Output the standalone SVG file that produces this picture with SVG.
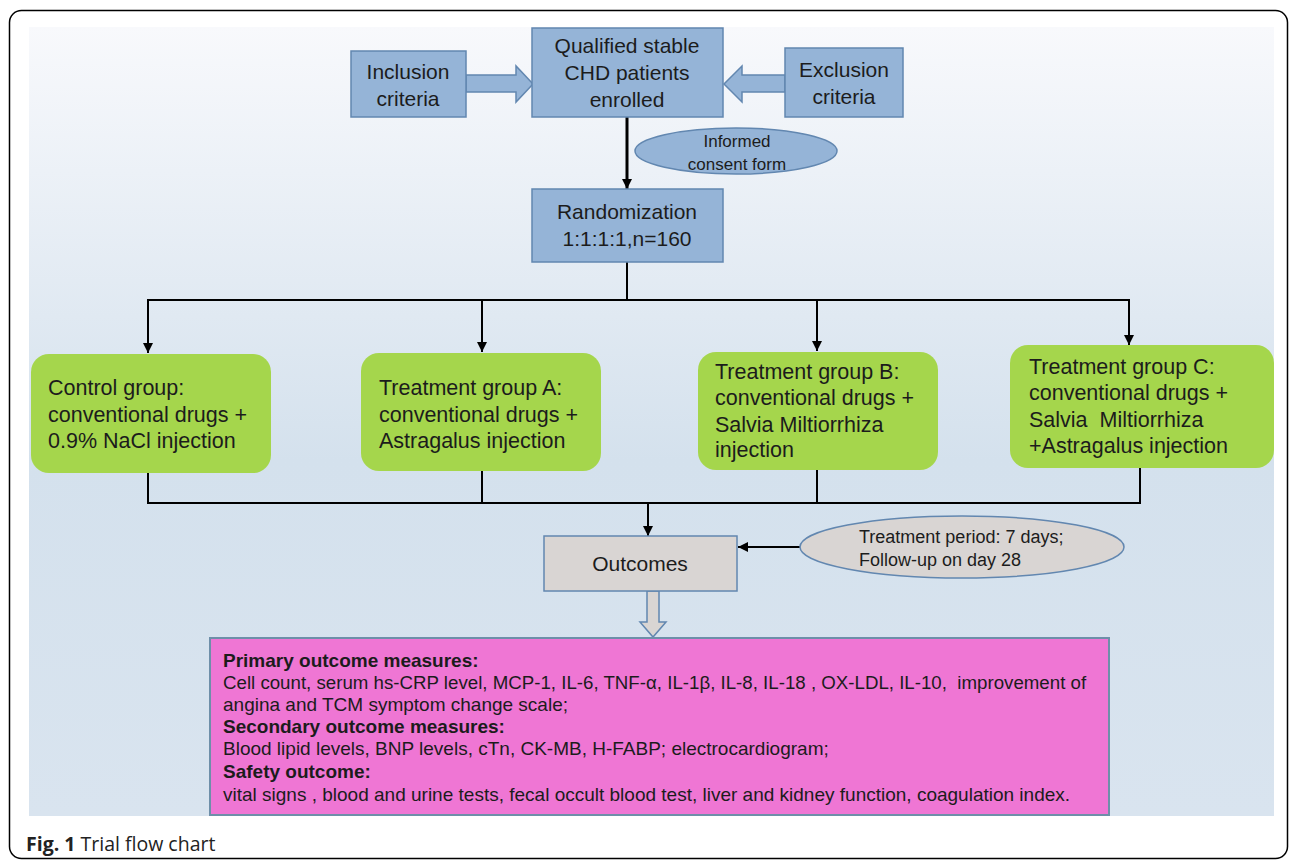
<svg xmlns="http://www.w3.org/2000/svg" width="1290" height="860" viewBox="0 0 1290 860">
<defs>
<linearGradient id="bg" x1="0" y1="0" x2="0" y2="1">
<stop offset="0" stop-color="#f8f9fc"/>
<stop offset="0.55" stop-color="#d4e1ed"/>
<stop offset="1" stop-color="#d9e4ef"/>
</linearGradient>
<marker id="ah" viewBox="0 0 10 10" refX="10" refY="5" markerWidth="10" markerHeight="10" markerUnits="userSpaceOnUse" orient="auto">
<path d="M0,0 L10,5 L0,10 z" fill="#000"/>
</marker>
<style>
.t{font-family:"Liberation Sans",Arial,sans-serif;fill:#1c1c1c}
.blue{fill:#95b4d7;stroke:#6287b0;stroke-width:1.5}
.green{fill:#a5d64c;stroke:none}
.gray{fill:#d9d5d3;stroke:#6287b0;stroke-width:1.5}
.c{fill:none;stroke:#000;stroke-width:2}
.big{font-size:21px}
.g{font-size:21.5px}
.m{font-size:19px}
</style>
</defs>
<rect x="0" y="0" width="1290" height="860" fill="#fff"/>
<rect x="9.5" y="10.5" width="1278" height="848" rx="12" fill="#fff" stroke="#000" stroke-width="1.5"/>
<rect x="29" y="27" width="1245" height="789" fill="url(#bg)"/>

<g id="connectors">
<path class="blue" d="M466,75 L516,75 L516,66 L533,84 L516,102 L516,92 L466,92 z"/>
<path class="blue" d="M785,75 L742,75 L742,66 L724,84 L742,102 L742,92 L785,92 z"/>
<line x1="627" y1="117" x2="627" y2="189" stroke="#000" stroke-width="3" marker-end="url(#ah)"/>
<polyline class="c" points="627,262 627,300"/>
<polyline class="c" points="148,353 148,300 1129,300 1129,345"/>
<line class="c" x1="148" y1="300" x2="148" y2="353" marker-end="url(#ah)"/>
<line class="c" x1="482" y1="300" x2="482" y2="352" marker-end="url(#ah)"/>
<line class="c" x1="817" y1="300" x2="817" y2="351" marker-end="url(#ah)"/>
<line class="c" x1="1129" y1="300" x2="1129" y2="345" marker-end="url(#ah)"/>
<polyline class="c" points="148,473 148,503 1140,503 1140,468"/>
<line class="c" x1="482" y1="471" x2="482" y2="503"/>
<line class="c" x1="817" y1="470" x2="817" y2="503"/>
<line class="c" x1="648" y1="503" x2="648" y2="536" marker-end="url(#ah)"/>
<line class="c" x1="800" y1="547" x2="738" y2="547" marker-end="url(#ah)"/>
<path class="gray" d="M647,591 L659,591 L659,622 L666,622 L653,637 L640,622 L647,622 z"/>
</g>

<g id="inclusion">
<rect class="blue" x="351" y="51" width="115" height="66"/>
<text class="t big" x="408" y="79" text-anchor="middle">Inclusion</text>
<text class="t big" x="408" y="106" text-anchor="middle">criteria</text>
</g>
<g id="enrolled">
<rect class="blue" x="532" y="28" width="191" height="89"/>
<text class="t big" x="627" y="53" text-anchor="middle">Qualified stable</text>
<text class="t big" x="627" y="80" text-anchor="middle">CHD patients</text>
<text class="t big" x="627" y="107" text-anchor="middle">enrolled</text>
</g>
<g id="exclusion">
<rect class="blue" x="785" y="48" width="118" height="69"/>
<text class="t big" x="844" y="77" text-anchor="middle">Exclusion</text>
<text class="t big" x="844" y="104" text-anchor="middle">criteria</text>
</g>
<g id="consent">
<ellipse class="blue" cx="736" cy="151" rx="101" ry="23"/>
<text class="t" style="font-size:17px" x="737" y="147" text-anchor="middle">Informed</text>
<text class="t" style="font-size:17px" x="737" y="170" text-anchor="middle">consent form</text>
</g>
<g id="randomization">
<rect class="blue" x="532" y="189" width="191" height="73"/>
<text class="t big" x="627" y="219" text-anchor="middle">Randomization</text>
<text class="t big" x="627" y="246" text-anchor="middle">1:1:1:1,n=160</text>
</g>

<g id="control">
<rect class="green" x="31" y="354" width="240" height="119" rx="18"/>
<text class="t g" x="48" y="395">Control group:</text>
<text class="t g" x="48" y="422">conventional drugs +</text>
<text class="t g" x="48" y="448">0.9% NaCl injection</text>
</g>
<g id="groupA">
<rect class="green" x="361" y="353" width="240" height="118" rx="18"/>
<text class="t g" x="379" y="395">Treatment group A:</text>
<text class="t g" x="379" y="422">conventional drugs +</text>
<text class="t g" x="379" y="448">Astragalus injection</text>
</g>
<g id="groupB">
<rect class="green" x="698" y="352" width="240" height="118" rx="18"/>
<text class="t g" x="715" y="379">Treatment group B:</text>
<text class="t g" x="715" y="405">conventional drugs +</text>
<text class="t g" x="715" y="432">Salvia Miltiorrhiza</text>
<text class="t g" x="715" y="457">injection</text>
</g>
<g id="groupC">
<rect class="green" x="1010" y="345" width="264" height="123" rx="18"/>
<text class="t g" x="1029" y="374">Treatment group C:</text>
<text class="t g" x="1029" y="400">conventional drugs +</text>
<text class="t g" x="1029" y="427" xml:space="preserve">Salvia  Miltiorrhiza</text>
<text class="t g" x="1029" y="453">+Astragalus injection</text>
</g>

<g id="outcomes">
<rect class="gray" x="544" y="536" width="193" height="55"/>
<text class="t big" x="640" y="571" text-anchor="middle">Outcomes</text>
</g>
<g id="period">
<ellipse class="gray" cx="962" cy="547" rx="162" ry="31"/>
<text class="t" style="font-size:18px" x="859" y="543">Treatment period: 7 days;</text>
<text class="t" style="font-size:18px" x="859" y="566">Follow-up on day 28</text>
</g>

<g id="measures">
<rect x="210" y="638" width="899" height="177" fill="#ef76d4" stroke="#6e8fa9" stroke-width="2"/>
<text class="t m" x="223" y="667" font-weight="bold">Primary outcome measures:</text>
<text class="t m" x="223" y="689" xml:space="preserve" style="font-size:18.7px">Cell count, serum hs-CRP level, MCP-1, IL-6, TNF-α, IL-1β, IL-8, IL-18 , OX-LDL, IL-10,  improvement of</text>
<text class="t m" x="223" y="711">angina and TCM symptom change scale;</text>
<text class="t m" x="223" y="733" font-weight="bold">Secondary outcome measures:</text>
<text class="t m" x="223" y="755">Blood lipid levels, BNP levels, cTn, CK-MB, H-FABP; electrocardiogram;</text>
<text class="t m" x="223" y="778" font-weight="bold">Safety outcome:</text>
<text class="t m" x="223" y="801">vital signs , blood and urine tests, fecal occult blood test, liver and kidney function, coagulation index.</text>
</g>

<g id="caption">
<text x="26" y="851" style="font-family:'Open Sans','Noto Sans',sans-serif;font-size:19.5px;fill:#222"><tspan font-weight="bold">Fig. 1</tspan> Trial flow chart</text>
</g>
</svg>
